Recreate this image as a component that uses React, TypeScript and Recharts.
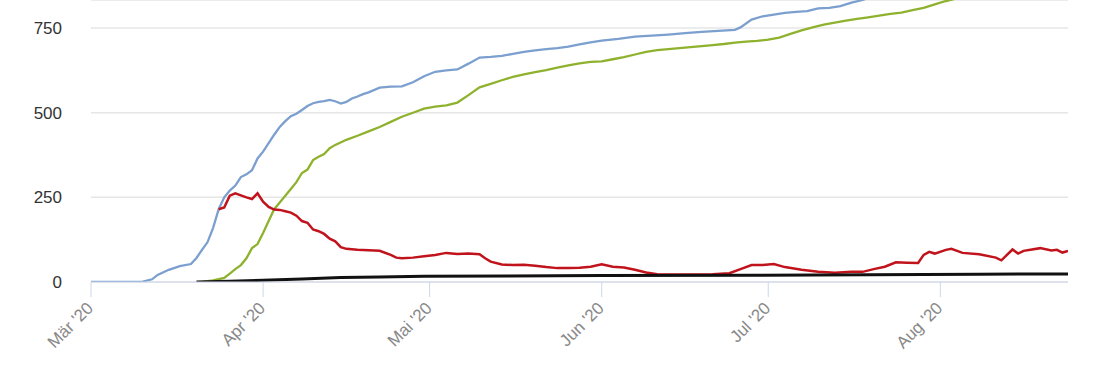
import { LineChart, Line, XAxis, YAxis, CartesianGrid } from 'recharts';

// days counted from 1 Mar 2020
const MONTH_TICKS = [0, 31, 61, 92, 122, 153];
const MONTH_LABELS = ["Mär '20", "Apr '20", "Mai '20", "Jun '20", "Jul '20", "Aug '20"];
const Y_TICKS = [0, 250, 500, 750];

const totalDays = [0, 9, 11, 12, 14, 16, 18, 19, 20, 21, 22, 23, 24, 25, 26, 27, 28, 29, 30, 31, 32, 33, 34, 35, 36, 37, 38, 39, 40, 41, 42, 43, 44, 45, 46, 47, 48, 49, 50, 52, 54, 56, 58, 60, 62, 64, 66, 68, 70, 72, 74, 76, 78, 80, 82, 84, 86, 88, 90, 92, 95, 98, 101, 104, 107, 110, 113, 116, 117, 119, 121, 123, 125, 127, 129, 131, 133, 135, 137, 139, 141, 145, 150, 155, 160, 165, 170, 176];
const totalValues = [0, 0, 8, 21, 36, 47, 53, 71, 95, 118, 160, 215, 250, 270, 285, 310, 318, 330, 365, 385, 410, 435, 458, 475, 490, 497, 508, 520, 528, 532, 534, 538, 534, 527, 532, 542, 548, 555, 560, 574, 577, 578, 590, 608, 621, 625, 628, 645, 663, 665, 668, 674, 680, 684, 688, 691, 695, 702, 708, 713, 718, 725, 728, 731, 735, 739, 742, 745, 752, 775, 785, 790, 795, 798, 800, 808, 810, 815, 825, 833, 845, 869, 894, 954, 955, 967, 1003, 1020];

const recoveredDays = [20, 22, 24, 25, 26, 27, 28, 29, 30, 31, 32, 33, 34, 35, 36, 37, 38, 39, 40, 41, 42, 43, 44, 46, 48, 50, 52, 54, 56, 58, 60, 62, 64, 66, 68, 70, 72, 74, 76, 78, 80, 82, 84, 86, 88, 90, 92, 94, 96, 98, 100, 102, 104, 106, 108, 110, 112, 114, 116, 118, 120, 122, 124, 126, 128, 130, 132, 134, 136, 138, 140, 142, 144, 146, 148, 150, 152, 154, 156, 160, 165, 170, 176];
const recoveredValues = [0, 5, 12, 25, 38, 50, 70, 100, 112, 145, 180, 215, 235, 255, 275, 295, 322, 332, 360, 370, 378, 395, 405, 420, 432, 445, 458, 473, 488, 500, 512, 518, 522, 530, 552, 575, 585, 596, 606, 613, 620, 626, 633, 640, 646, 650, 652, 658, 664, 672, 680, 685, 688, 691, 694, 697, 700, 703, 707, 710, 712, 716, 722, 733, 743, 752, 760, 766, 772, 777, 782, 787, 792, 796, 803, 810, 820, 830, 838, 855, 872, 888, 905];

const activeDays = [23, 24, 25, 26, 27, 28, 29, 30, 31, 32, 33, 34, 35, 36, 37, 38, 39, 40, 41, 42, 43, 44, 45, 46, 48, 50, 52, 54, 55, 56, 58, 60, 62, 64, 66, 68, 70, 71, 72, 74, 76, 78, 80, 82, 84, 86, 88, 90, 92, 94, 96, 98, 100, 102, 104, 108, 112, 115, 117, 119, 121, 123, 125, 128, 131, 134, 137, 139, 141, 143, 145, 147, 149, 150, 151, 152, 154, 155, 157, 160, 163, 164, 166, 167, 168, 171, 173, 174, 175, 176];
const activeValues = [215, 220, 255, 262, 256, 250, 245, 262, 237, 222, 214, 213, 209, 205, 196, 180, 175, 155, 150, 142, 128, 120, 103, 98, 95, 94, 92, 80, 72, 70, 72, 76, 80, 86, 83, 84, 82, 70, 60, 52, 50, 51, 48, 44, 41, 41, 42, 45, 52, 45, 43, 36, 28, 23, 22, 22, 23, 26, 38, 50, 50, 53, 44, 36, 30, 27, 30, 30, 38, 45, 58, 57, 56, 80, 89, 84, 95, 98, 86, 82, 72, 64, 96, 84, 92, 100, 93, 95, 87, 92];

const deathDays = [19, 25, 31, 38, 45, 52, 60, 75, 92, 120, 150, 160, 176];
const deathValues = [0, 2, 5, 9, 13, 15, 17, 18, 19, 20, 22, 23, 24];

const toPoints = (days: number[], values: number[]) =>
  days.map((d, i) => ({ d, v: values[i] }));

const SERIES = [
  { name: 'Infizierte', data: toPoints(totalDays, totalValues), color: '#7b9fcf', width: 2.3 },
  { name: 'Genesene', data: toPoints(recoveredDays, recoveredValues), color: '#8fb22e', width: 2.3 },
  { name: 'Aktive', data: toPoints(activeDays, activeValues), color: '#c0131c', width: 2.5 },
  { name: 'Verstorbene', data: toPoints(deathDays, deathValues), color: '#111111', width: 3 },
];

function MonthTick({ x, y, payload }: any) {
  const i = MONTH_TICKS.indexOf(payload.value);
  return (
    <g transform={`translate(${x - 1},${y + 6})`}>
      <text
        transform="rotate(-45)"
        textAnchor="end"
        dy="0.35em"
        fill="#888"
        fontSize={17}
        fontFamily="'Liberation Sans', Arial, sans-serif"
      >
        {MONTH_LABELS[i]}
      </text>
    </g>
  );
}

export default function App() {
  return (
    <div style={{ position: 'absolute', left: 0, top: 0, background: '#fff' }}>
      <LineChart width={1110} height={370} margin={{ top: 0, right: 42, bottom: 0, left: 0 }}>
        <CartesianGrid vertical={false} stroke="#e6e6e6" strokeWidth={1.5} />
        <XAxis
          type="number"
          dataKey="d"
          domain={[0, 176]}
          ticks={MONTH_TICKS}
          allowDataOverflow
          height={88}
          stroke="#ccd6eb"
          tickSize={15}
          tick={<MonthTick />}
        />
        <YAxis
          type="number"
          domain={[0, 833]}
          ticks={Y_TICKS}
          allowDataOverflow
          width={91}
          axisLine={false}
          tickLine={false}
          tickSize={0}
          tickMargin={29}
          tick={{ fill: '#333', fontSize: 17, fontFamily: "'Liberation Sans', Arial, sans-serif" }}
        />
        {SERIES.map(s => (
          <Line
            key={s.name}
            data={s.data}
            dataKey="v"
            name={s.name}
            type="linear"
            stroke={s.color}
            strokeWidth={s.width}
            dot={false}
            isAnimationActive={false}
          />
        ))}
      </LineChart>
    </div>
  );
}
